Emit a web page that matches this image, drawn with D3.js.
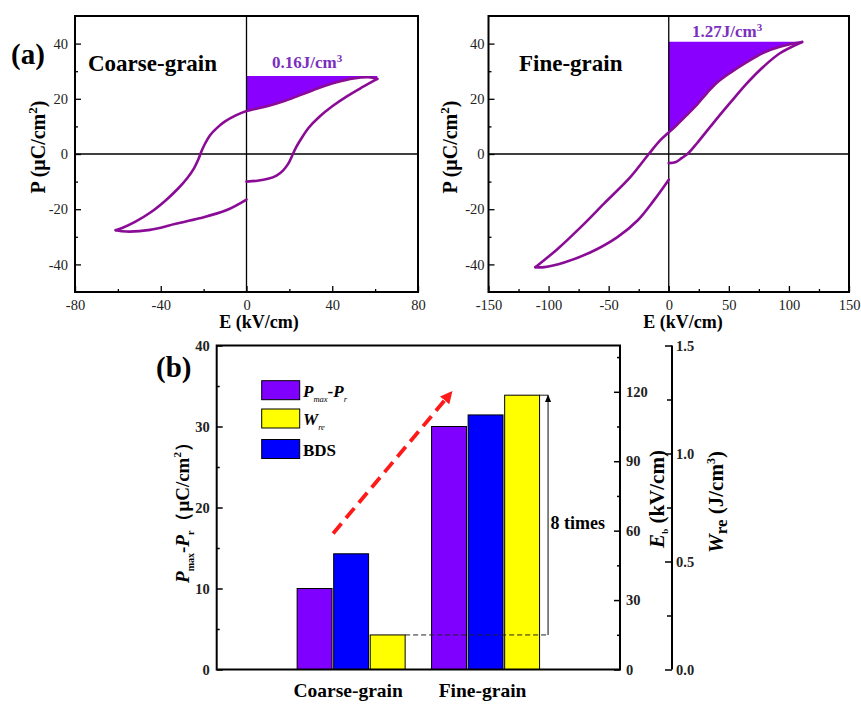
<!DOCTYPE html>
<html><head><meta charset="utf-8">
<script src="https://cdn.jsdelivr.net/npm/d3@7"></script>
<style>
body{margin:0;background:#fff}
svg{display:block}
text{font-family:"Liberation Serif","Times New Roman",serif}
</style>
</head><body>
<svg id="c" width="861" height="706"></svg>
<script>
// ---------- DATA ----------
// (a) Coarse-grain P-E loop, three measured branches
const coarseChargeE = [0, 5, 10, 14, 17, 19.5, 21.2, 23, 25.5, 29, 34, 40, 47, 54, 61];
const coarseChargeP = [-10, -9.7, -9, -7.8, -6, -3.5, -0.8, 2.2, 5.5, 9.5, 13.5, 17.3, 21, 24.2, 27.2];
const coarseDischargeE = [61, 57, 50, 42, 34, 26, 18, 10, 4, 0, -5, -10, -14, -17, -19.3, -21, -22.5, -24.5, -27.5, -32, -38, -45, -52, -58, -61];
const coarseDischargeP = [27.2, 27.8, 27.4, 26, 24, 21.6, 19.3, 17.4, 16.3, 15.6, 14, 11.8, 9.3, 6.8, 3.8, 1, -2, -5.2, -8.6, -12.6, -17, -21.3, -24.6, -26.8, -27.6];
const coarseReturnE = [-61, -56, -45, -33, -22, -9.5, 0];
const coarseReturnP = [-27.6, -28.1, -27.5, -25.3, -23.3, -20.4, -16.5];
const coarsePmax = 28.3;

// (a) Fine-grain P-E loop
const fineChargeE = [0, 6, 11, 15.5, 23.5, 37, 51, 65, 79, 92.5, 111];
const fineChargeP = [-3.3, -2.9, -1.4, 0, 3.9, 11.2, 18.5, 25.6, 31.7, 36.5, 40.6];
const fineDischargeE = [111, 92.5, 78.7, 64.9, 51.1, 40, 31.8, 23.5, 15.2, 6.9, 0, -7, -16.6, -31.8, -53.9, -73.2, -92.5, -111];
const fineDischargeP = [40.6, 38.9, 36.7, 33.3, 29.4, 25.8, 22.1, 17.9, 14.2, 10.6, 7.8, 5, 0, -8.3, -18, -26.5, -34.4, -41];
const fineReturnE = [-111, -103.6, -87, -65, -43, -26, -12.4, 0];
const fineReturnP = [-41, -41, -39.3, -35.6, -30.2, -24.1, -16.8, -9.3];
const finePmax = 40.7;

const coarseXTicks = [-80, -40, 0, 40, 80];
const coarseXMinor = [-60, -20, 20, 60];
const fineXTicks = [-150, -100, -50, 0, 50, 100, 150];
const fineXMinor = [-125, -75, -25, 25, 75, 125];
const pTicks = [-40, -20, 0, 20, 40];
const pMinor = [-30, -10, 10, 30];

// (b) bar chart
const categories = ["Coarse-grain", "Fine-grain"];
const pmaxPr = [10.0, 30.0];   // μC/cm²  (left axis)
const bds = [50, 110];         // kV/cm   (Eb axis)
const wre = [0.16, 1.27];      // J/cm³   (Wre axis)
const leftTicks = [0, 10, 20, 30, 40];
const leftMinor = [5, 15, 25, 35];
const ebTicks = [0, 30, 60, 90, 120];
const ebMinor = [15, 45, 75, 105, 135];
const wreTicks = [0, 0.5, 1.0, 1.5];
const wreMinor = [0.25, 0.75, 1.25];

// ---------- DRAW ----------
const svg = d3.select("#c");
const loopColor = "#8A0C96";
const fillColor = "#8A00FF";
const txtPurple = "#7B2FBE";
const intFmt = d => String(d); // hyphen-minus like the original

function zipEP(E, P) { return E.map((e, i) => [e, P[i]]); }

function loopPanel(o) {
  const x = d3.scaleLinear().domain(o.xd).range(o.xr);
  const y = d3.scaleLinear().domain([-50, 50]).range([292, 16]);
  const g = svg.append("g");
  const dis = zipEP(o.disE, o.disP).filter(d => d[0] >= 0).sort((a, b) => a[0] - b[0]);
  const area = d3.area().x(d => x(d[0])).y0(y(o.pmax)).y1(d => y(d[1])).curve(d3.curveMonotoneX);
  g.append("path").attr("d", area(dis)).attr("fill", fillColor);
  g.append("line").attr("x1", x(o.xd[0])).attr("x2", x(o.xd[1])).attr("y1", y(0)).attr("y2", y(0)).attr("stroke", "#000").attr("stroke-width", 1.3);
  g.append("line").attr("x1", x(0)).attr("x2", x(0)).attr("y1", y(-50)).attr("y2", y(50)).attr("stroke", "#000").attr("stroke-width", 1.3);
  const line = d3.line().x(d => x(d[0])).y(d => y(d[1])).curve(d3.curveCatmullRom.alpha(0.5));
  [[o.chE, o.chP], [o.disE, o.disP], [o.reE, o.reP]].forEach(([E, P]) => {
    g.append("path").attr("d", line(zipEP(E, P))).attr("fill", "none")
      .attr("stroke", loopColor).attr("stroke-width", 2.6).attr("stroke-linejoin", "round").attr("stroke-linecap", "round");
  });
  g.append("g").attr("transform", `translate(0,${y(-50)})`)
    .call(d3.axisBottom(x).tickValues(o.xt).tickSize(-6).tickPadding(8).tickFormat(intFmt));
  g.append("g").attr("transform", `translate(0,${y(-50)})`)
    .call(d3.axisBottom(x).tickValues(o.xm).tickSize(-3).tickFormat(""));
  g.append("g").attr("transform", `translate(${x(o.xd[0])},0)`)
    .call(d3.axisLeft(y).tickValues(pTicks).tickSize(-6).tickPadding(o.ypad).tickFormat(intFmt));
  g.append("g").attr("transform", `translate(${x(o.xd[0])},0)`)
    .call(d3.axisLeft(y).tickValues(pMinor).tickSize(-3).tickFormat(""));
  g.selectAll(".domain").remove();
  g.selectAll(".tick line").attr("stroke", "#000").attr("stroke-width", 1.3);
  g.selectAll(".tick text").attr("font-size", 14.5).attr("fill", "#222");
  g.append("rect").attr("x", x(o.xd[0])).attr("y", y(50)).attr("width", x(o.xd[1]) - x(o.xd[0]))
    .attr("height", y(-50) - y(50)).attr("fill", "none").attr("stroke", "#000").attr("stroke-width", 2);
  g.append("text").attr("x", o.xTitleX).attr("y", 328).attr("text-anchor", "middle")
    .attr("font-size", 18).attr("font-weight", "bold").text("E (kV/cm)");
  const yt = g.append("text").attr("transform", `translate(${o.yTitleX},147) rotate(-90)`)
    .attr("text-anchor", "middle").attr("font-size", 20).attr("font-weight", "bold");
  yt.append("tspan").text("P (μC/cm");
  yt.append("tspan").attr("dy", -8).attr("font-size", 13).text("2");
  yt.append("tspan").attr("dy", 8).text(")");
  g.append("text").attr("x", o.nameX).attr("y", o.nameY).attr("font-size", 23).attr("font-weight", "bold").text(o.name);
  const wt = g.append("text").attr("x", o.wX).attr("y", o.wY).attr("font-size", 17)
    .attr("font-weight", "bold").attr("fill", txtPurple);
  wt.append("tspan").text(o.wText);
  wt.append("tspan").attr("dy", -6).attr("font-size", 11).text("3");
}

loopPanel({
  xd: [-80, 80], xr: [75, 418], xt: coarseXTicks, xm: coarseXMinor, ypad: 7,
  chE: coarseChargeE, chP: coarseChargeP, disE: coarseDischargeE, disP: coarseDischargeP,
  reE: coarseReturnE, reP: coarseReturnP, pmax: coarsePmax,
  xTitleX: 259, yTitleX: 45, name: "Coarse-grain", nameX: 88, nameY: 71,
  wText: "0.16J/cm", wX: 272, wY: 68
});
loopPanel({
  xd: [-150, 150], xr: [488.5, 849], xt: fineXTicks, xm: fineXMinor, ypad: 4,
  chE: fineChargeE, chP: fineChargeP, disE: fineDischargeE, disP: fineDischargeP,
  reE: fineReturnE, reP: fineReturnP, pmax: finePmax,
  xTitleX: 683, yTitleX: 457, name: "Fine-grain", nameX: 519, nameY: 71,
  wText: "1.27J/cm", wX: 692, wY: 37
});

svg.append("text").attr("x", 11).attr("y", 64).attr("font-size", 29).attr("font-weight", "bold").text("(a)");
svg.append("text").attr("x", 156).attr("y", 377).attr("font-size", 29).attr("font-weight", "bold").text("(b)");

// ---------- (b) ----------
const bL = 216.7, bR = 620, bT = 345.5, bB = 669.5;
const xc = d3.scalePoint().domain(categories).range([bL, bR]).padding(1);
const xs = d3.scaleBand().domain(["pmax", "bds", "wre"]).range([-54, 54]).paddingInner(0.045);
const yL = d3.scaleLinear().domain([0, 40]).range([bB, bT]);
const yE = d3.scaleLinear().domain([0, 140]).range([bB, bT]);
const yW = d3.scaleLinear().domain([0, 1.5]).range([bB, bT]);
const gb = svg.append("g");

const series = [
  { key: "pmax", vals: pmaxPr, scale: yL, color: "#8000FF" },
  { key: "bds", vals: bds, scale: yE, color: "#0000FF" },
  { key: "wre", vals: wre, scale: yW, color: "#FFFF00" }
];
series.forEach(s => {
  gb.selectAll(null).data(categories).enter().append("rect")
    .attr("x", c => xc(c) + xs(s.key))
    .attr("width", xs.bandwidth())
    .attr("y", (c, i) => s.scale(s.vals[i]))
    .attr("height", (c, i) => bB - s.scale(s.vals[i]))
    .attr("fill", s.color).attr("stroke", "#000").attr("stroke-width", 1);
});

gb.append("g").attr("transform", `translate(${bL},0)`)
  .call(d3.axisLeft(yL).tickValues(leftTicks).tickSize(-6).tickPadding(7).tickFormat(intFmt));
gb.append("g").attr("transform", `translate(${bL},0)`)
  .call(d3.axisLeft(yL).tickValues(leftMinor).tickSize(-3).tickFormat(""));
gb.append("g").attr("transform", `translate(${bR},0)`)
  .call(d3.axisRight(yE).tickValues(ebTicks).tickSize(-6).tickPadding(6).tickFormat(intFmt));
gb.append("g").attr("transform", `translate(${bR},0)`)
  .call(d3.axisRight(yE).tickValues(ebMinor).tickSize(-3).tickFormat(""));
const wx = 672;
gb.append("g").attr("transform", `translate(${wx},0)`)
  .call(d3.axisRight(yW).tickValues(wreTicks).tickSize(-7).tickPadding(4).tickFormat(d3.format(".1f")));
gb.append("g").attr("transform", `translate(${wx},0)`)
  .call(d3.axisRight(yW).tickValues(wreMinor).tickSize(-5).tickFormat(""));
gb.append("line").attr("x1", wx).attr("x2", wx).attr("y1", bT).attr("y2", bB).attr("stroke", "#000").attr("stroke-width", 2);
gb.selectAll(".domain").remove();
gb.selectAll(".tick line").attr("stroke", "#000").attr("stroke-width", 1.5);
gb.selectAll(".tick text").attr("font-size", 14.5).attr("font-weight", "bold").attr("fill", "#222");
gb.append("rect").attr("x", bL).attr("y", bT).attr("width", bR - bL).attr("height", bB - bT)
  .attr("fill", "none").attr("stroke", "#000").attr("stroke-width", 2);

gb.selectAll(null).data(categories).enter().append("text")
  .attr("x", c => xc(c) - 3).attr("y", 697).attr("text-anchor", "middle")
  .attr("font-size", 19.5).attr("font-weight", "bold").text(c => c);

const lt = gb.append("text").attr("transform", `translate(189,508) rotate(-90)`)
  .attr("text-anchor", "middle").attr("font-size", 19).attr("font-weight", "bold");
lt.append("tspan").attr("font-style", "italic").text("P");
lt.append("tspan").attr("font-size", 10).attr("dy", 5).text("max");
lt.append("tspan").attr("dy", -5).text("-");
lt.append("tspan").attr("font-style", "italic").text("P");
lt.append("tspan").attr("font-size", 10).attr("dy", 5).text("r");
lt.append("tspan").attr("dy", -5).text("（μC/cm");
lt.append("tspan").attr("font-size", 11).attr("dy", -8).text("2");
lt.append("tspan").attr("dy", 8).text("）");

const et = gb.append("text").attr("transform", `translate(664,499) rotate(-90)`)
  .attr("text-anchor", "middle").attr("font-size", 21).attr("font-weight", "bold");
et.append("tspan").attr("font-style", "italic").text("E");
et.append("tspan").attr("font-size", 9).attr("dy", 4).text("b");
et.append("tspan").attr("dy", -4).text(" (kV/cm)");

const wtt = gb.append("text").attr("transform", `translate(723,502) rotate(-90)`)
  .attr("text-anchor", "middle").attr("font-size", 21).attr("font-weight", "bold");
wtt.append("tspan").attr("font-style", "italic").text("W");
wtt.append("tspan").attr("font-size", 17).attr("dy", 4).text("re");
wtt.append("tspan").attr("dy", -4).text(" (J/cm");
wtt.append("tspan").attr("font-size", 12).attr("dy", -8).text("3");
wtt.append("tspan").attr("dy", 8).text(")");

const legend = [
  { color: "#8000FF", parts: [["P", "i"], ["max", "s"], ["-", "n"], ["P", "i"], ["r", "s"]] },
  { color: "#FFFF00", parts: [["W", "i"], ["re", "s"]] },
  { color: "#0000FF", parts: [["BDS", "n"]] }
];
const legY = [380.7, 409, 439.5];
legend.forEach((l, i) => {
  gb.append("rect").attr("x", 261.7).attr("y", legY[i]).attr("width", 38).attr("height", 19)
    .attr("fill", l.color).attr("stroke", "#000").attr("stroke-width", 1);
  const t = gb.append("text").attr("x", 303).attr("y", legY[i] + 16).attr("font-size", 17).attr("font-weight", "bold");
  let sub = false;
  l.parts.forEach(p => {
    const ts = t.append("tspan").text(p[0]);
    if (p[1] === "i") ts.attr("font-style", "italic");
    if (p[1] === "s") { ts.attr("font-size", 8.5).attr("font-style", "italic").attr("font-weight", "normal").attr("dy", sub ? 0 : 5); sub = true; }
    else { if (sub) ts.attr("dy", -5); sub = false; }
  });
});

// red dashed trend arrow (positions in left-axis data units)
const arrowFrom = { cat: "Coarse-grain", off: -18, v: 16.8 };
const arrowTo = { cat: "Fine-grain", off: -37, v: 33.8 };
const defs = svg.append("defs");
defs.append("marker").attr("id", "redHead").attr("viewBox", "0 0 10 10").attr("refX", 5).attr("refY", 5)
  .attr("markerWidth", 3.2).attr("markerHeight", 3.2).attr("orient", "auto")
  .append("path").attr("d", "M0,0 L10,5 L0,10 Z").attr("fill", "#FF1A1A");
defs.append("marker").attr("id", "blkHead").attr("viewBox", "0 0 10 10").attr("refX", 9).attr("refY", 5)
  .attr("markerWidth", 8).attr("markerHeight", 8).attr("markerUnits", "userSpaceOnUse").attr("orient", "auto")
  .append("path").attr("d", "M0,1 L10,5 L0,9 Z").attr("fill", "#000");
gb.append("line")
  .attr("x1", xc(arrowFrom.cat) + arrowFrom.off).attr("y1", yL(arrowFrom.v))
  .attr("x2", xc(arrowTo.cat) + arrowTo.off).attr("y2", yL(arrowTo.v))
  .attr("stroke", "#FF1A1A").attr("stroke-width", 3.8).attr("stroke-dasharray", "13,7")
  .attr("marker-end", "url(#redHead)");

// "8 times" annotation on the Wre scale
const annX = xc("Fine-grain") + xs("wre") + xs.bandwidth() + 8.5;
gb.append("line").attr("x1", xc("Coarse-grain") + xs("wre") + xs.bandwidth()).attr("x2", annX)
  .attr("y1", yW(wre[0])).attr("y2", yW(wre[0])).attr("stroke", "#222").attr("stroke-width", 1).attr("stroke-dasharray", "5,3");
gb.append("line").attr("x1", xc("Fine-grain") + xs("wre") + xs.bandwidth()).attr("x2", annX)
  .attr("y1", yW(wre[1])).attr("y2", yW(wre[1])).attr("stroke", "#222").attr("stroke-width", 1);
gb.append("line").attr("x1", annX).attr("x2", annX).attr("y1", yW(wre[0])).attr("y2", yW(wre[1]))
  .attr("stroke", "#222").attr("stroke-width", 1.1).attr("marker-end", "url(#blkHead)");
gb.append("text").attr("x", annX + 2.5).attr("y", 529).attr("font-size", 18).attr("font-weight", "bold").text("8 times");
</script>
</body></html>
